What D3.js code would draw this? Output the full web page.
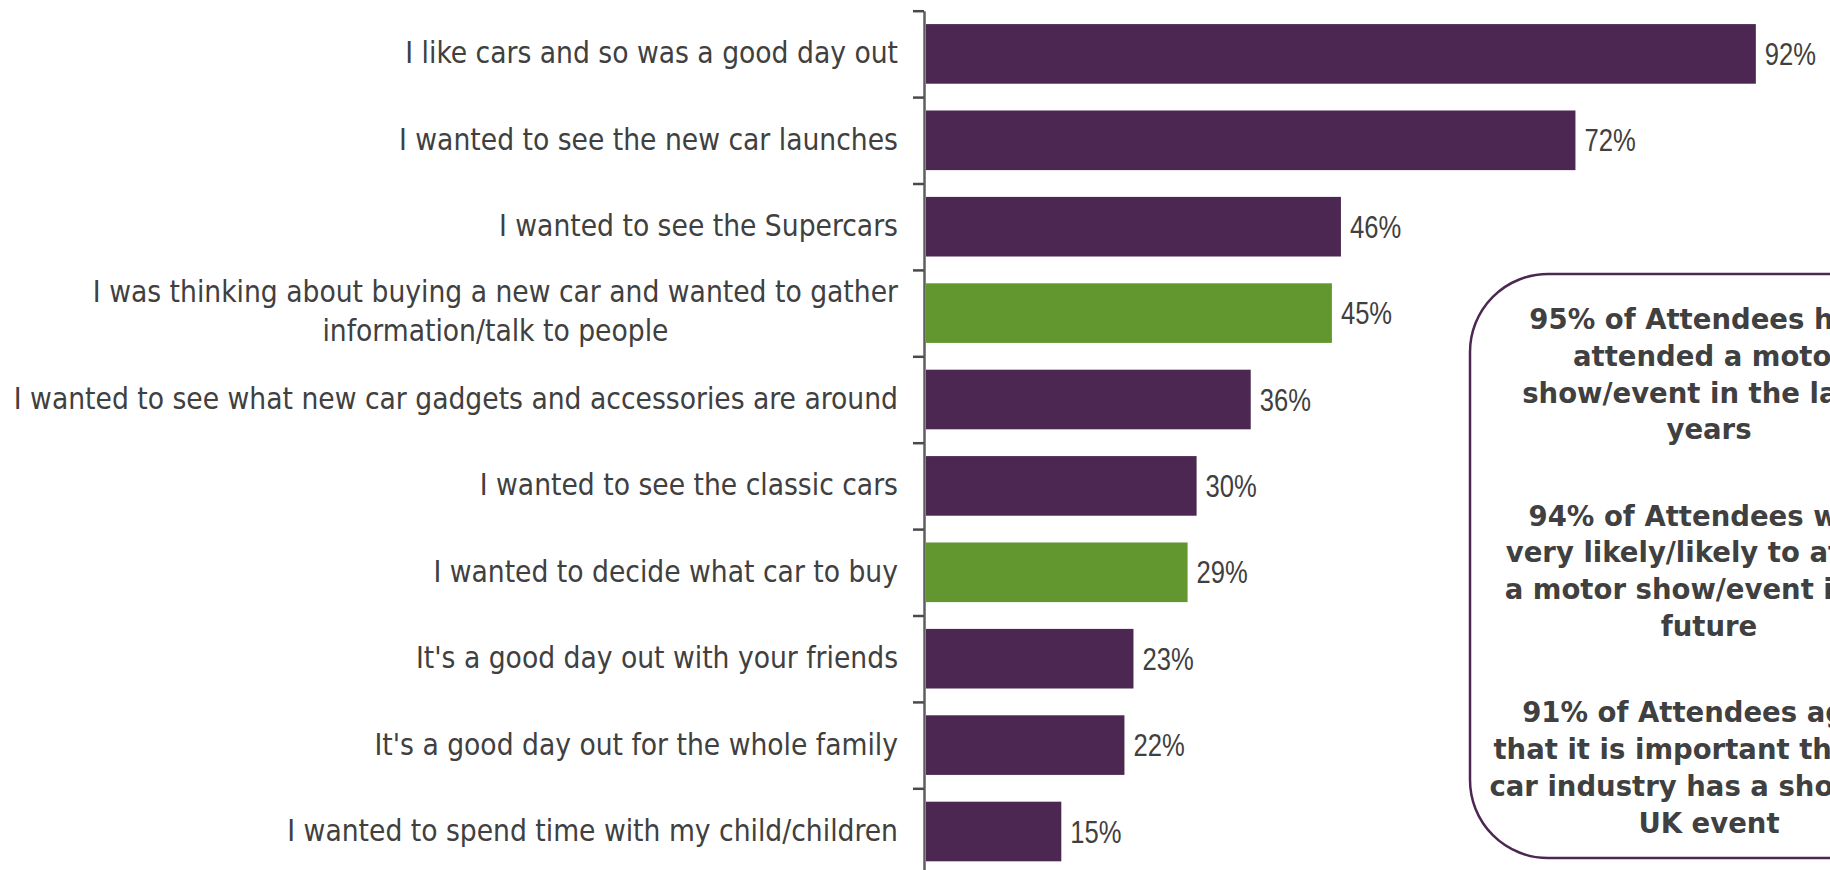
<!DOCTYPE html>
<html>
<head>
<meta charset="utf-8">
<script src="https://cdn.jsdelivr.net/npm/d3@7"></script>
<style>
  html, body { margin: 0; padding: 0; background: #ffffff; overflow: hidden; }
  svg { display: block; }
</style>
</head>
<body>
<svg id="chart" width="1830" height="870"></svg>
<script>
// Reasons for attending, share of attendees (%)
const categories = [
  "I like cars and so was a good day out",
  "I wanted to see the new car launches",
  "I wanted to see the Supercars",
  "I was thinking about buying a new car and wanted to gather\ninformation/talk to people",
  "I wanted to see what new car gadgets and accessories are around",
  "I wanted to see the classic cars",
  "I wanted to decide what car to buy",
  "It's a good day out with your friends",
  "It's a good day out for the whole family",
  "I wanted to spend time with my child/children"
];
const values = [92, 72, 46, 45, 36, 30, 29, 23, 22, 15];
// Purchase-related reasons are shown in green
const reasonType = ["interest", "interest", "interest", "purchase", "interest",
                    "interest", "purchase", "social", "social", "social"];

// Key findings shown in the side panel
const keyFindings = [
  ["95% of Attendees have", "attended a motor", "show/event in the last 3", "years"],
  ["94% of Attendees were", "very likely/likely to attend", "a motor show/event in the", "future"],
  ["91% of Attendees agree", "that it is important that the", "car industry has a showcase", "UK event"]
];

const svg = d3.select("#chart");
const textColor = "#404040";
const colour = d3.scaleOrdinal()
  .domain(["interest", "purchase", "social"])
  .range(["#4b2752", "#62962f", "#4b2752"]);

const x = d3.scaleLinear().domain([0, 100]).range([926, 1828]);
const y = d3.scaleBand()
  .domain(d3.range(categories.length))
  .range([10.7, 874.7])
  .paddingInner(0.31)
  .paddingOuter(0.155);

// Axis with ticks between the categories
const edges = d3.scaleLinear().domain([0, categories.length]).range(y.range());
const axis = svg.append("g")
  .attr("transform", "translate(924,0)")
  .call(d3.axisLeft(edges)
    .tickValues(d3.range(categories.length + 1))
    .tickFormat("")
    .tickSize(11)
    .tickSizeOuter(0));
axis.select(".domain").attr("stroke", "#5e5e5e").attr("stroke-width", 2.5);
axis.selectAll(".tick line").attr("stroke", "#4a4a4a").attr("stroke-width", 2.5);

// Bars
svg.append("g").selectAll("rect")
  .data(values)
  .join("rect")
  .attr("x", x(0))
  .attr("y", (d, i) => y(i))
  .attr("width", d => x(d) - x(0))
  .attr("height", y.bandwidth())
  .attr("fill", (d, i) => colour(reasonType[i]));

// Value labels (narrow numerals)
svg.append("g").selectAll("text")
  .data(values)
  .join("text")
  .attr("transform", (d, i) =>
    `translate(${x(d) + 9},${y(i) + y.bandwidth() / 2 + 11}) scale(0.8,1)`)
  .attr("font-family", "'Liberation Sans', Arial, sans-serif")
  .attr("font-size", 32)
  .attr("fill", textColor)
  .text(d => d + "%");

// Category labels (multi-line labels are centred within a right-aligned block)
const labelRight = 898;
const lineGap = 39;
const labels = svg.append("g")
  .attr("font-family", "'DejaVu Sans Condensed', 'Liberation Sans', sans-serif")
  .attr("font-size", 29.6)
  .attr("fill", textColor);
categories.forEach((c, i) => {
  const lines = c.split("\n");
  const mid = y(i) + y.bandwidth() / 2;
  if (lines.length === 1) {
    labels.append("text")
      .attr("x", labelRight)
      .attr("y", mid + 9.5)
      .attr("text-anchor", "end")
      .text(c);
  } else {
    const t = labels.append("text").attr("text-anchor", "middle");
    lines.forEach((ln, k) => {
      t.append("tspan")
        .attr("y", mid + 8 + (k - (lines.length - 1) / 2) * lineGap)
        .text(ln);
    });
    const w = d3.max(t.selectAll("tspan").nodes(), n => n.getComputedTextLength());
    t.selectAll("tspan").attr("x", labelRight - w / 2);
  }
});

// Side panel with key findings
const panel = svg.append("g");
panel.append("rect")
  .attr("x", 1470)
  .attr("y", 274)
  .attr("width", 478)
  .attr("height", 584)
  .attr("rx", 78)
  .attr("ry", 78)
  .attr("fill", "#ffffff")
  .attr("stroke", "#4b2752")
  .attr("stroke-width", 2.5);

const panelText = panel.append("text")
  .attr("text-anchor", "middle")
  .attr("font-family", "'DejaVu Sans', Verdana, sans-serif")
  .attr("font-weight", "bold")
  .attr("font-size", 27.5)
  .attr("fill", textColor);
const panelLine = 36.8, paraStep = 196.6;
keyFindings.forEach((para, p) => {
  para.forEach((ln, k) => {
    panelText.append("tspan")
      .attr("x", 1709)
      .attr("y", 329 + p * paraStep + k * panelLine)
      .text(ln);
  });
});
</script>
</body>
</html>
